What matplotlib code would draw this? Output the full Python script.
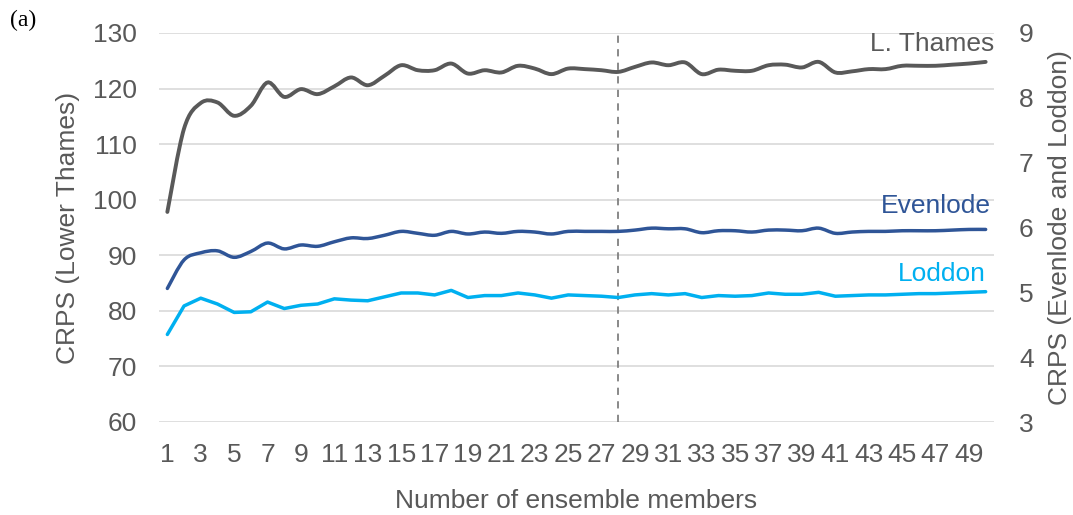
import numpy as np
import matplotlib.pyplot as plt
from matplotlib.path import Path
from matplotlib.patches import PathPatch

members = list(range(1, 51))

thames = [97.8, 112.8, 117.4, 117.5, 115.1, 116.9, 121.1, 118.5, 119.9, 119.0,
          120.4, 122.0, 120.6, 122.3, 124.2, 123.3, 123.3, 124.5, 122.7, 123.3,
          122.9, 124.1, 123.6, 122.6, 123.6, 123.5, 123.3, 123.0, 123.9, 124.7,
          124.2, 124.7, 122.6, 123.4, 123.2, 123.2, 124.2, 124.3, 123.8, 124.8,
          122.9, 123.1, 123.5, 123.5, 124.1, 124.1, 124.1, 124.3, 124.5, 124.8]

evenlode = [5.06, 5.50, 5.61, 5.64, 5.54, 5.63, 5.76, 5.67, 5.73, 5.71,
            5.78, 5.84, 5.83, 5.88, 5.94, 5.91, 5.88, 5.94, 5.90, 5.93,
            5.91, 5.94, 5.93, 5.90, 5.94, 5.94, 5.94, 5.94, 5.96, 5.99,
            5.98, 5.98, 5.92, 5.95, 5.95, 5.93, 5.96, 5.96, 5.95, 5.99,
            5.91, 5.93, 5.94, 5.94, 5.95, 5.95, 5.95, 5.96, 5.97, 5.97]

loddon = [4.35, 4.79, 4.91, 4.82, 4.69, 4.70, 4.85, 4.75, 4.80, 4.82,
          4.90, 4.88, 4.87, 4.93, 4.99, 4.99, 4.96, 5.03, 4.92, 4.95,
          4.95, 4.99, 4.96, 4.91, 4.96, 4.95, 4.94, 4.92, 4.96, 4.98,
          4.96, 4.98, 4.92, 4.95, 4.94, 4.95, 4.99, 4.97, 4.97, 5.00,
          4.94, 4.95, 4.96, 4.96, 4.97, 4.98, 4.98, 4.99, 5.00, 5.01]

split_at = 28
grey = '#595959'
fs = 19


def smooth_path(x, y):
    # Excel-like smoothed line: Catmull-Rom converted to cubic Bezier segments
    pts = np.column_stack([x, y]).astype(float)
    verts = [pts[0]]
    codes = [Path.MOVETO]
    n = len(pts)
    for i in range(n - 1):
        p0 = pts[max(i - 1, 0)]
        p1 = pts[i]
        p2 = pts[i + 1]
        p3 = pts[min(i + 2, n - 1)]
        c1 = p1 + (p2 - p0) / 6.0
        c2 = p2 - (p3 - p1) / 6.0
        verts += [c1, c2, p2]
        codes += [Path.CURVE4] * 3
    return Path(verts, codes)


plt.rcParams['font.family'] = ['Liberation Sans', 'DejaVu Sans']

fig = plt.figure(figsize=(10.73, 5.15), dpi=100)
ax = fig.add_axes([159 / 1073, 93 / 515, 835 / 1073, 389 / 515])
ax2 = ax.twinx()

ax.set_xlim(0.5, 50.5)
ax.set_ylim(60, 130)
ax2.set_ylim(3, 9)
ax.set_yticks(range(60, 131, 10))
ax2.set_yticks(range(3, 10))
ax.set_xticks(members[::2])

ax.grid(axis='y', color='#D9D9D9', lw=1.2)
ax.set_axisbelow(True)
for a in (ax, ax2):
    for s in a.spines.values():
        s.set_visible(False)
    a.tick_params(length=0, labelsize=fs, labelcolor=grey)
ax.tick_params(axis='x', pad=15)
ax.tick_params(axis='y', pad=16)
ax2.tick_params(axis='y', pad=18)

ax.axvline(split_at, color='#808080', lw=1.3, ls=(0, (4, 3.5)))

ax.add_patch(PathPatch(smooth_path(members, thames), fill=False,
                       edgecolor='#595959', lw=2.8, capstyle='round'))
ax2.add_patch(PathPatch(smooth_path(members, evenlode), fill=False,
                        edgecolor='#2F5597', lw=2.5, capstyle='round'))
ax2.plot(members, loddon, color='#00B0F0', lw=2.5, solid_capstyle='round',
         solid_joinstyle='round')

ax.text(50.5, 128, 'L. Thames', color=grey, fontsize=fs, ha='right', va='center')
ax2.text(50.3, 6.33, 'Evenlode', color='#2F5597', fontsize=fs, ha='right', va='center')
ax2.text(50.0, 5.28, 'Loddon', color='#00B0F0', fontsize=fs, ha='right', va='center')

ax.set_xlabel('Number of ensemble members', fontsize=fs, color=grey, labelpad=16)
ax.set_ylabel('CRPS (Lower Thames)', fontsize=fs, color=grey, labelpad=9)
ax2.set_ylabel('CRPS (Evenlode and Loddon)', fontsize=fs, color=grey, labelpad=10)

fig.text(10 / 1073, 1 - 20 / 515, '(a)', family='Liberation Serif', fontsize=17,
         ha='left', va='center', color='black')

fig.savefig('out.png', dpi=100)
